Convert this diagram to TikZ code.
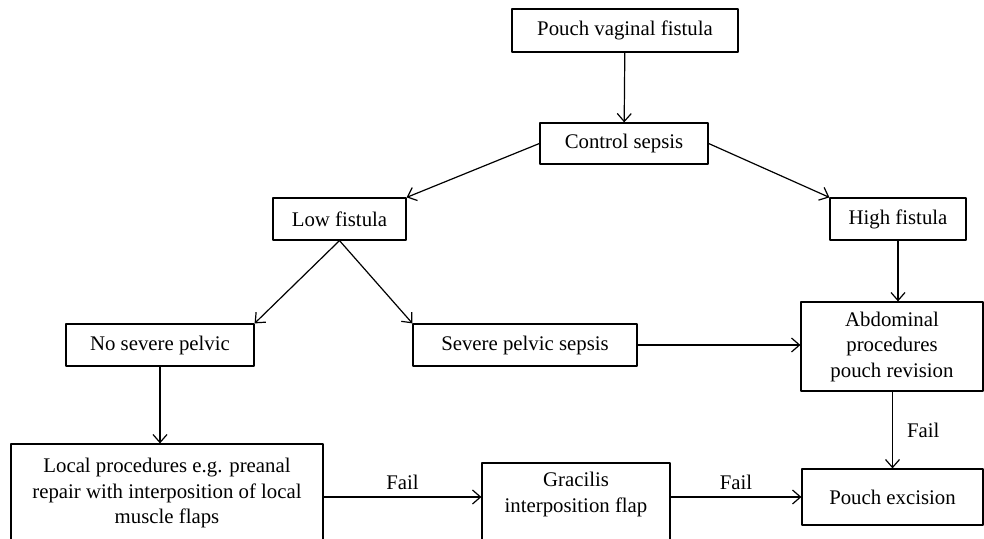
\documentclass[tikz,border=0pt]{standalone}
\usepackage{fontspec}
\setmainfont{Liberation Serif}
\usetikzlibrary{arrows.meta}

\begin{document}
\begin{tikzpicture}[x=0.5pt, y=-0.5pt, line cap=round, line join=round, >={Straight Barb[length=4pt,width=7pt]},
  box/.style={draw, line width=0.6pt, align=center, inner sep=2pt, font=\fontsize{10.4}{12.75}\selectfont},
  link/.style={->, line width=0.6pt},
  fail/.style={font=\fontsize{10.4}{12.75}\selectfont, inner sep=2pt}]

\clip (0,0) rectangle (984,539);

% top
\node[box, minimum width=113pt, minimum height=21.5pt] (pvf) at (625,30.5) {Pouch vaginal fistula};
\node[box, minimum width=84pt, minimum height=20.5pt] (cs) at (624,143.5) {Control sepsis};

% fistula level
\node[box, minimum width=66.5pt, minimum height=21pt] (low) at (339.5,219) {Low fistula};
\node[box, minimum width=68pt, minimum height=21pt] (high) at (898,219) {High fistula};

% sepsis level
\node[box, minimum width=94pt, minimum height=21pt] (nosev) at (160,345) {No severe pelvic};
\node[box, minimum width=112pt, minimum height=21pt] (sev) at (525,345) {Severe pelvic sepsis};
\node[box, minimum width=91pt, minimum height=44.5pt] (abd) at (892,346.5) {Abdominal\\procedures\\pouch revision};

% bottom
\node[box, minimum width=156pt, minimum height=49pt] (local) at (167,493) {Local procedures e.g. preanal\\repair with interposition of local\\muscle flaps};
\node[box, minimum width=94pt, minimum height=42pt] (grac) at (576,505) {Gracilis\\interposition flap\\\mbox{}};
\node[box, minimum width=90.5pt, minimum height=28pt] (exc) at (892.5,497) {Pouch excision};

\draw[link] (pvf) -- (cs);
\draw[link] (cs.west) -- (low.north east);
\draw[link] (cs.east) -- (high.north west);
\draw[link] (low.south) -- (nosev.north east);
\draw[link] (low.south) -- (sev.north west);
\draw[link] (high.south) -- (high.south |- abd.north);
\draw[link] (sev.east) -- (sev.east -| abd.west);
\draw[link] (nosev.south) -- (nosev.south |- local.north);
\draw[link] (abd.south -| exc.north) -- node[fail, right=5pt] {Fail} (exc.north);
\draw[link] ([yshift=-2pt]local.east) -- node[fail, above=1.5pt] {Fail} ([yshift=-2pt]local.east -| grac.west);
\draw[link] (exc.west -| grac.east) -- node[fail, above=1.5pt] {Fail} (exc.west);

\end{tikzpicture}
\end{document}
